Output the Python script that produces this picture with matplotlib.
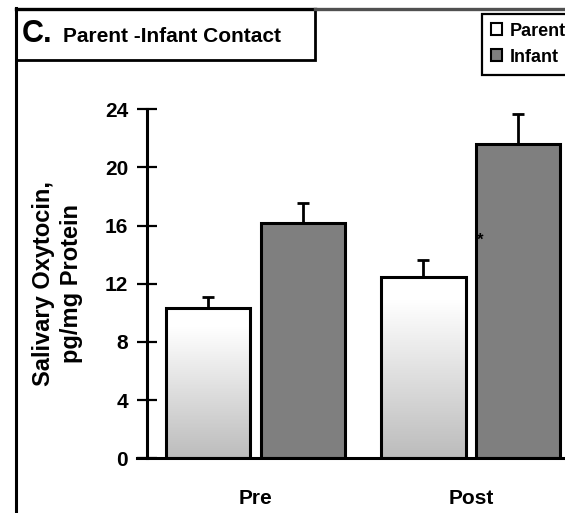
import numpy as np
import matplotlib
matplotlib.use("Agg")
import matplotlib.pyplot as plt
from matplotlib.lines import Line2D
from matplotlib.patches import Rectangle
from matplotlib.colors import LinearSegmentedColormap

plt.rcParams['font.family'] = ['Liberation Sans', 'DejaVu Sans']
plt.rcParams['font.weight'] = 'bold'

# data
groups = ['Pre', 'Post']
parent = [10.35, 12.45]
parent_err = [0.75, 1.2]
infant = [16.2, 21.6]
infant_err = [1.35, 2.1]
yticks = [0, 4, 8, 12, 16, 20, 24]

W, H = 565, 513
fig = plt.figure(figsize=(W / 100, H / 100), dpi=100)


def fx(x):
    return x / W


def fy(y):
    return 1 - y / H


# axes placed in pixel terms (spine at x=147, y 0..24 -> 458..109 px)
ax = fig.add_axes([fx(146.7), fy(458.3), fx(565) - fx(146.7), fy(109.3) - fy(458.3)])

x = np.arange(len(groups))
off = 0.22
bw = 0.39

# parent bars: white-to-grey gradient inside a black outline
cmap = LinearSegmentedColormap.from_list('pg', ['#bcbcbc', '#ffffff'])
grad = np.clip(np.linspace(0, 1, 256) / 0.87, 0, 1).reshape(-1, 1)
pbars = ax.bar(x - off, parent, bw, facecolor='none', edgecolor='black', linewidth=2.2, zorder=3)
for b, v in zip(pbars, parent):
    im = ax.imshow(grad, cmap=cmap, vmin=0, vmax=1, origin='lower', aspect='auto',
                   extent=[b.get_x(), b.get_x() + b.get_width(), 0, v], zorder=2)
    im.set_clip_path(b)
ibars = ax.bar(x + off, infant, bw, color='#7f7f7f', edgecolor='black', linewidth=2.2, zorder=3)

ax.errorbar(x - off, parent, yerr=[np.zeros(2), parent_err], fmt='none', ecolor='black',
            elinewidth=2, capsize=4.3, capthick=2, zorder=1)
ax.errorbar(x + off, infant, yerr=[np.zeros(2), infant_err], fmt='none', ecolor='black',
            elinewidth=2, capsize=4.3, capthick=2, zorder=1)

# significance mark
ax.text(1 + off - bw / 2 + 0.004, 15.0, '*', fontsize=12, ha='left', va='center', zorder=4)

ax.set_xlim(-0.503, 1.436)
ax.set_ylim(0, 24)
ax.set_yticks(yticks)
ax.set_xticks(x)
ax.set_xticklabels(groups, fontsize=15, fontweight='bold')
ax.tick_params(axis='x', length=0, pad=22)
ax.tick_params(axis='y', direction='inout', length=13.7, width=1.6, pad=6.5, labelsize=15)
for s in ['top', 'right', 'bottom']:
    ax.spines[s].set_visible(False)
ax.spines['left'].set_linewidth(2.2)
ax.spines['left'].set_bounds(0, 24)
ax.axhline(0, xmin=(137 - 146.7) / (565 - 146.7), xmax=1, color='black', lw=2.2, clip_on=False, zorder=5)
ax.patch.set_visible(False)

fig.text(fx(57.5), fy(283.8), 'Salivary Oxytocin,\npg/mg Protein', rotation=90, ha='center',
         va='center', multialignment='center', fontsize=17, fontweight='bold', linespacing=1.3)

# outer frame and title box
fig.add_artist(Line2D([fx(15.5), fx(15.5)], [fy(8), fy(513)], color='black', lw=2.2))
fig.add_artist(Line2D([fx(15.5), fx(315)], [fy(8.5), fy(8.5)], color='black', lw=2.4))
fig.add_artist(Line2D([fx(315), fx(565)], [fy(8.5), fy(8.5)], color='#505050', lw=2.4))
fig.add_artist(Rectangle((fx(16), fy(60)), fx(314.5) - fx(16), fy(9) - fy(60), fill=False,
                         edgecolor='black', lw=2, transform=fig.transFigure))
fig.text(fx(22), fy(41.7), 'C.', fontsize=22, fontweight='bold', va='baseline', ha='left')
fig.text(fx(63), fy(41.7), 'Parent -Infant Contact', fontsize=15, fontweight='bold',
         va='baseline', ha='left')

# legend, cut off by the right edge as in the source
h1 = Rectangle((0, 0), 1, 1, facecolor='white', edgecolor='black', lw=1.5)
h2 = Rectangle((0, 0), 1, 1, facecolor='#7f7f7f', edgecolor='black', lw=1.5)
fig.legend([h1, h2], ['Parent', 'Infant'], loc='upper left', bbox_to_anchor=(fx(482), fy(13.5)),
           prop={'size': 13, 'weight': 'bold'}, fancybox=False, edgecolor='black',
           framealpha=1, borderpad=0.5, handlelength=0.6, handleheight=0.6,
           handletextpad=0.45, labelspacing=0.5, borderaxespad=0).get_frame().set_linewidth(1.6)

fig.savefig('out.png', dpi=100)
